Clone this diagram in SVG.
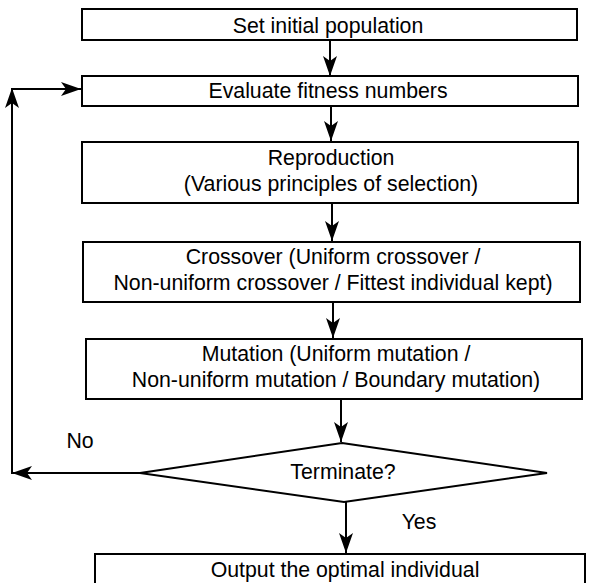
<svg xmlns="http://www.w3.org/2000/svg" width="591" height="583" viewBox="0 0 591 583">
<defs>
<marker id="ah" viewBox="0 0 20 14" refX="20" refY="7" markerWidth="20" markerHeight="14" markerUnits="userSpaceOnUse" orient="auto">
<path d="M0,0 L20,7 L0,14 L5,7 Z" fill="#000"/>
</marker>
<style>
.box{fill:#fff;stroke:#000;stroke-width:2}
.t{font-family:"Liberation Sans",Arial,sans-serif;font-size:21.3px;fill:#000;text-anchor:middle}
.c{fill:none;stroke:#000;stroke-width:2;marker-end:url(#ah)}
</style>
</defs>
<rect width="591" height="583" fill="#fff"/>
<g id="connectors">
<line class="c" x1="330" y1="40" x2="330" y2="76"/>
<line class="c" x1="331" y1="106" x2="331" y2="141"/>
<line class="c" x1="332" y1="203" x2="332" y2="241"/>
<line class="c" x1="333" y1="302" x2="333" y2="338"/>
<line class="c" x1="341" y1="399" x2="341" y2="442"/>
<line class="c" x1="346" y1="502" x2="346" y2="553"/>
<line class="c" x1="140" y1="473" x2="12" y2="473"/>
<line class="c" x1="12" y1="474" x2="12" y2="88"/>
<line class="c" x1="11" y1="89" x2="81" y2="89"/>
<text class="t" x="80" y="448">No</text>
<text class="t" x="419" y="529">Yes</text>
</g>
<g id="n1"><rect class="box" x="82" y="9" width="495" height="31"/><text class="t" x="328" y="33">Set initial population</text></g>
<g id="n2"><rect class="box" x="82" y="76" width="496" height="30"/><text class="t" x="328" y="98">Evaluate fitness numbers</text></g>
<g id="n3"><rect class="box" x="82" y="142" width="496" height="61"/><text class="t" x="331" y="165">Reproduction</text><text class="t" x="331" y="191">(Various principles of selection)</text></g>
<g id="n4"><rect class="box" x="83" y="242" width="497" height="60"/><text class="t" x="333" y="264">Crossover (Uniform crossover /</text><text class="t" x="333" y="290">Non-uniform crossover / Fittest individual kept)</text></g>
<g id="n5"><rect class="box" x="86" y="339" width="496" height="60"/><text class="t" x="336" y="361">Mutation (Uniform mutation /</text><text class="t" x="336" y="387">Non-uniform mutation / Boundary mutation)</text></g>
<g id="n6"><polygon class="box" points="342,443 547,473 344,502 140,473"/><text class="t" x="343" y="479">Terminate?</text></g>
<g id="n7"><rect class="box" x="95" y="554" width="490" height="40"/><text class="t" x="345" y="577">Output the optimal individual</text></g>
</svg>
